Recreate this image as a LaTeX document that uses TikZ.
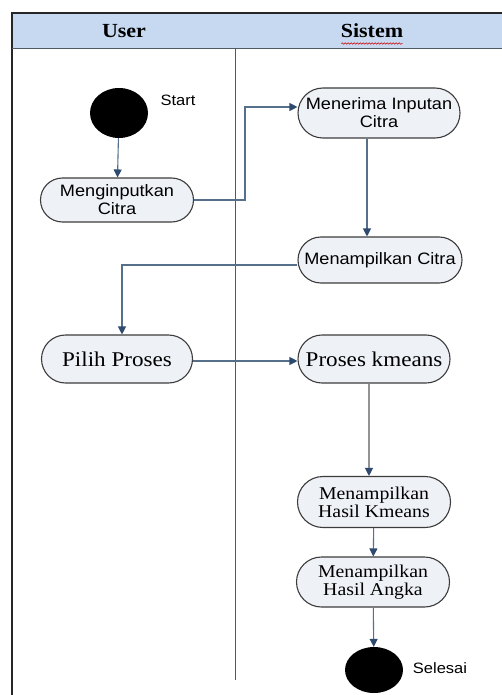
\documentclass[tikz,border=0pt]{standalone}
\usepackage{fontspec}
\setmainfont{Liberation Serif}[FakeStretch=1.1]
\setsansfont{Liberation Sans}[FakeStretch=1.1]
\usetikzlibrary{arrows.meta,shapes.misc,shapes.geometric,decorations.pathmorphing}

\definecolor{hdrfill}{HTML}{C6D9F0}
\definecolor{actfill}{HTML}{EEF1F6}
\definecolor{actline}{HTML}{3C3C3C}
\definecolor{flowline}{HTML}{566F8A}
\definecolor{tipcol}{HTML}{2E4A6E}
\definecolor{laneline}{HTML}{505A64}

\tikzset{
  act/.style={rounded rectangle, draw=actline, line width=1.1pt, fill=actfill,
    inner sep=0pt, align=center},
  sanstext/.style={font=\sffamily\fontsize{16.5}{18}\selectfont},
  bigserif/.style={font=\rmfamily\fontsize{21}{23}\selectfont},
  midserif/.style={font=\rmfamily\fontsize{18}{18}\selectfont},
  dot/.style={ellipse, fill=black, inner sep=0pt},
  flow/.style={draw=flowline, line width=1.1pt,
    -{Triangle[length=8pt,width=8pt,color=tipcol]}},
  lane/.style={draw=laneline, line width=1pt},
}

\begin{document}
\begin{tikzpicture}[x=1pt,y=-1pt]
\useasboundingbox (0,0) rectangle (502,695);
\fill[white] (0,0) rectangle (502,695);

% swimlane frame
\fill[hdrfill] (12,13) rectangle (502,49);
\draw[black!85, line width=1.3pt] (502,13) -- (12,13) -- (12,695);
\draw[lane] (12,49) -- (502,49);
\draw[lane] (235,49) -- (235,680);
\node[font=\rmfamily\bfseries\fontsize{20}{22}\selectfont] (hu) at (124,31) {User};
\node[font=\rmfamily\bfseries\fontsize{20}{22}\selectfont] (hs) at (372,31) {Sistem};
\draw[red!80!black, line width=0.5pt, decorate,
  decoration={snake, amplitude=0.8pt, segment length=3pt}]
  ([yshift=-2pt,xshift=4pt]hs.south west) -- ([yshift=-2pt,xshift=-4pt]hs.south east);

% activities
\node[dot, minimum width=58pt, minimum height=50pt] (start) at (119,113) {};
\node[font=\sffamily\fontsize{15}{17}\selectfont] (lstart) at (178,100) {Start};
\node[act, sanstext, minimum width=153pt, minimum height=44pt] (meng) at (117,200) {Menginputkan\\Citra};
\node[act, sanstext, minimum width=162pt, minimum height=50pt] (terima) at (379,113) {Menerima Inputan\\Citra};
\node[act, sanstext, minimum width=164pt, minimum height=46pt] (tampil) at (380,260) {Menampilkan Citra};
\node[act, bigserif, minimum width=151pt, minimum height=48pt] (pilih) at (117,359) {Pilih Proses};
\node[act, bigserif, minimum width=152pt, minimum height=48pt] (kmeans) at (374,359) {Proses kmeans};
\node[act, midserif, minimum width=153pt, minimum height=51pt] (hasilk) at (374,502) {Menampilkan\\Hasil Kmeans};
\node[act, midserif, minimum width=153pt, minimum height=50pt] (hasila) at (373,582) {Menampilkan\\Hasil Angka};
\node[dot, minimum width=58pt, minimum height=46pt] (stop) at (374,670) {};
\node[font=\sffamily\fontsize{15}{17}\selectfont] (lstop) at (440,668) {Selesai};

% control flow
\coordinate (k1) at (245,107);
\coordinate (k2) at (122,265);
\coordinate (k3) at (367,0);
\coordinate (k4) at (369,0);

\draw[flow] (start) -- (meng);
\draw[flow] (meng.east) -| (k1) -- (k1 -| terima.west);
\draw[flow] (k3 |- terima.south) -- (k3 |- tampil.north);
\draw[flow] (k2 -| tampil.west) -- (k2) -- (k2 |- pilih.north);
\draw[flow] ([yshift=-2pt]pilih.east) -- ([yshift=-2pt]kmeans.west);
\draw[flow, draw=gray!85] (k4 |- kmeans.south) -- (k4 |- hasilk.north);
\draw[flow] (hasilk) -- (hasila);
\draw[flow] (hasila) -- (stop);
\end{tikzpicture}
\end{document}
